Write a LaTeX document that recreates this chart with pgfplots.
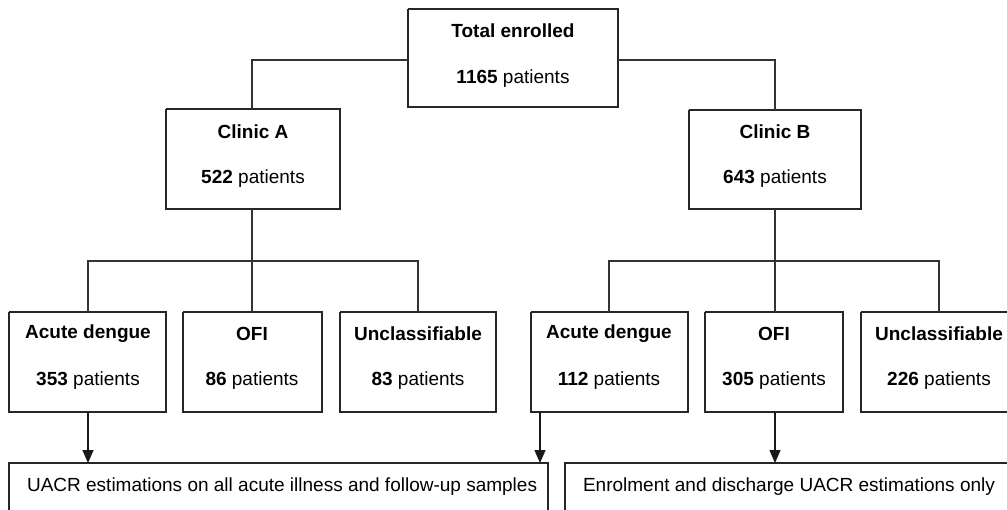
\documentclass[border=0pt]{standalone}
\usepackage{fontspec}
\setmainfont{Liberation Sans}
\usepackage{pgfplots}
\pgfplotsset{compat=1.18}
\usetikzlibrary{arrows.meta}
\begin{document}
\begin{tikzpicture}
\begin{axis}[width=503.5pt,height=254.5pt,scale only axis,
  xmin=0,xmax=1007,ymin=0,ymax=509,y dir=reverse,
  axis line style={draw=none},xtick=\empty,ytick=\empty,
  bx/.style={draw=black!85,line width=0.75pt,mark=none,solid},
  cn/.style={draw=black!80,line width=0.6pt,mark=none,solid},
  ar/.style={draw=black!90,fill=black!90,line width=0.7pt,mark=none,solid,-{Triangle[length=6.5pt,width=5.5pt]}},
  nodes={font=\fontsize{9.5}{11}\selectfont,text=black}]
% boxes
\addplot[bx] coordinates {(408,9) (618,9) (618,107) (408,107) (408,9)};
\addplot[bx] coordinates {(166,109) (340,109) (340,209) (166,209) (166,109)};
\addplot[bx] coordinates {(689,110) (861,110) (861,209) (689,209) (689,110)};
\addplot[bx] coordinates {(9,312) (166,312) (166,412) (9,412) (9,312)};
\addplot[bx] coordinates {(183,312) (322,312) (322,412) (183,412) (183,312)};
\addplot[bx] coordinates {(340,312) (496,312) (496,412) (340,412) (340,312)};
\addplot[bx] coordinates {(531,312) (688,312) (688,412) (531,412) (531,312)};
\addplot[bx] coordinates {(705,312) (843,312) (843,412) (705,412) (705,312)};
\addplot[bx] coordinates {(861,312) (1017,312) (1017,412) (861,412) (861,312)};
\addplot[bx] coordinates {(548,530) (548,463) (9,463) (9,530)};
\addplot[bx] coordinates {(1030,463) (565,463) (565,530)};
% connectors
\addplot[cn] coordinates {(252,109) (252,60) (408,60)};
\addplot[cn] coordinates {(618,60) (775,60) (775,110)};
\addplot[cn] coordinates {(252,209) (252,312)};
\addplot[cn] coordinates {(88,312) (88,261) (418,261) (418,312)};
\addplot[cn] coordinates {(775,209) (775,312)};
\addplot[cn] coordinates {(609,312) (609,261) (939,261) (939,312)};
% arrows
\addplot[ar] coordinates {(88,412) (88,463)};
\addplot[ar] coordinates {(540,412) (540,463)};
\addplot[ar] coordinates {(775,412) (775,463)};
% texts
\node at (axis cs:513,31) {\textbf{Total enrolled}};
\node at (axis cs:513,79) {\textbf{1165} patients};
\node at (axis cs:253,132) {\textbf{Clinic A}};
\node at (axis cs:253,179) {\textbf{522} patients};
\node at (axis cs:775,132) {\textbf{Clinic B}};
\node at (axis cs:775,179) {\textbf{643} patients};
\node at (axis cs:88,334) {\textbf{Acute dengue}};
\node at (axis cs:88,381) {\textbf{353} patients};
\node at (axis cs:252,334) {\textbf{OFI}};
\node at (axis cs:252,381) {\textbf{86} patients};
\node at (axis cs:418,334) {\textbf{Unclassifiable}};
\node at (axis cs:418,381) {\textbf{83} patients};
\node at (axis cs:609,334) {\textbf{Acute dengue}};
\node at (axis cs:609,381) {\textbf{112} patients};
\node at (axis cs:774,334) {\textbf{OFI}};
\node at (axis cs:774,381) {\textbf{305} patients};
\node at (axis cs:939,334) {\textbf{Unclassifiable}};
\node at (axis cs:939,381) {\textbf{226} patients};
\node[anchor=west] at (axis cs:20,487) {UACR estimations on all acute illness and follow-up samples};
\node[anchor=west] at (axis cs:576,487) {Enrolment and discharge UACR estimations only};
\end{axis}
\end{tikzpicture}
\end{document}
